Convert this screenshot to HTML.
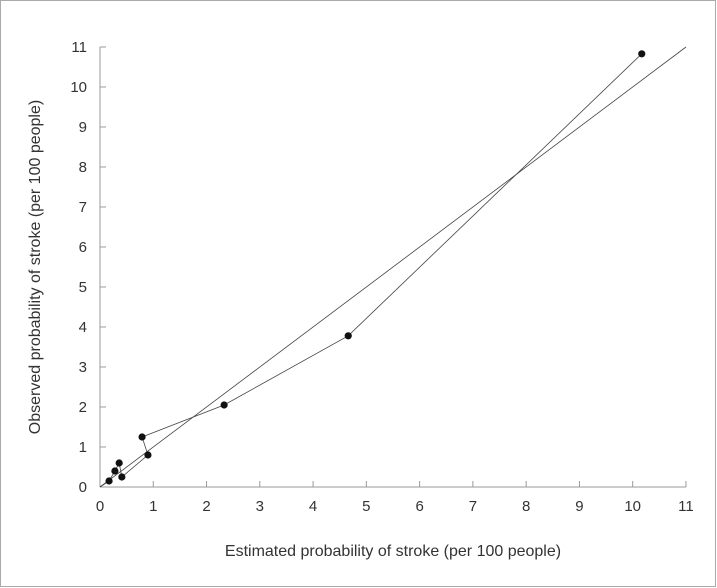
<!DOCTYPE html>
<html><head><meta charset="utf-8"><style>
body{margin:0;background:#fff}
svg{display:block;font-family:"Liberation Sans",sans-serif}
</style></head><body>
<svg width="717" height="588">
<rect x="0.5" y="0.5" width="715" height="586" fill="#fff" stroke="#aaa"/>
<g id="axes"></g><g id="marks"></g>
<text x="393" y="556" text-anchor="middle" font-size="16" fill="#333">Estimated probability of stroke (per 100 people)</text>
<text transform="translate(40,267) rotate(-90)" text-anchor="middle" font-size="16" fill="#333">Observed probability of stroke (per 100 people)</text>
</svg>
<script>
const estimated=[0.17,0.28,0.36,0.41,0.9,0.79,2.33,4.66,10.17];
const observed=[0.15,0.4,0.6,0.25,0.8,1.25,2.05,3.78,10.83];
const ticks=[0,1,2,3,4,5,6,7,8,9,10,11];
const ns="http://www.w3.org/2000/svg";
const X=v=>100+v*53.27, Y=v=>487-v*40;
const ax=document.getElementById('axes'), mk=document.getElementById('marks');
function mkEl(t,a,p){const e=document.createElementNS(ns,t);for(const k in a)e.setAttribute(k,a[k]);p.appendChild(e);return e;}
let e=mkEl('line',{x1:X(0),y1:Y(0),x2:X(11),y2:Y(0),stroke:'#999'},ax);


e=mkEl('line',{x1:X(0),y1:Y(0),x2:X(0),y2:Y(11),stroke:'#999'},ax);


ticks.forEach(t=>{
 if(t>0){
 let l=mkEl('line',{x1:X(t),y1:Y(0),x2:X(t),y2:Y(0)-6,stroke:'#999'},ax);
 
 
 l=mkEl('line',{x1:X(0),y1:Y(t),x2:X(0)+6,y2:Y(t),stroke:'#999'},ax);
 
 
 }
 let tx=mkEl('text',{x:X(t),y:511,'text-anchor':'middle','font-size':15,fill:'#333'},ax);tx.textContent=t;
 
 
 tx=mkEl('text',{x:87,y:Y(t)+5,'text-anchor':'end','font-size':15,fill:'#333'},ax);tx.textContent=t;
 
 
});
e=mkEl('line',{x1:X(0),y1:Y(0),x2:X(11),y2:Y(11),stroke:'#444','stroke-width':0.8},mk);


const pts=[[X(0),Y(0)]].concat(estimated.map((v,i)=>[X(v),Y(observed[i])]));
e=mkEl('polyline',{points:pts.map(p=>p.join(',')).join(' '),fill:'none',stroke:'#444','stroke-width':0.8},mk);


estimated.forEach((v,i)=>{
 const c=mkEl('circle',{cx:X(v),cy:Y(observed[i]),r:3.6,fill:'#111'},mk);
 
 
});
</script>
</body></html>
